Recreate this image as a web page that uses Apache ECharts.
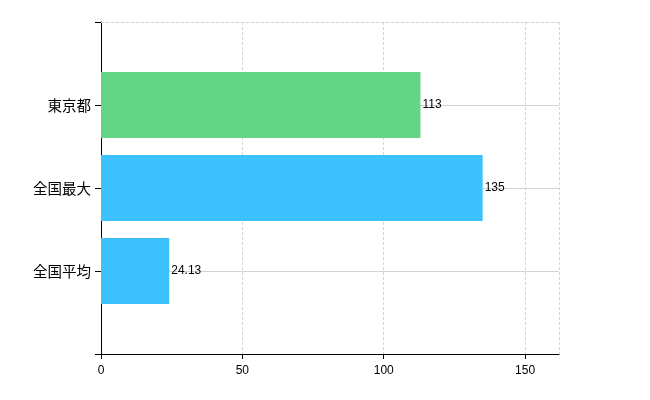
<!DOCTYPE html>
<html><head><meta charset="utf-8">
<script src="https://cdn.jsdelivr.net/npm/echarts@6/dist/echarts.min.js"></script>
<style>html,body{margin:0;padding:0;background:#fff}#c{width:650px;height:400px}</style>
</head><body><div id="c"></div>
<script>
const categories = ['', '全国平均', '全国最大', '東京都', ''];
const values = ['-', 24.13, 135, 113, '-'];
const barColors = ['#3dc1fd', '#3dc1fd', '#3dc1fd', '#64d487', '#3dc1fd'];
const xMax = 162;
const xInterval = 50;

const chart = echarts.init(document.getElementById('c'), null, {renderer: 'canvas'});
chart.setOption({
  animation: false,
  grid: {left: 101, right: 91, top: 22, bottom: 46, containLabel: false},
  xAxis: [{
    type: 'value', min: 0, max: xMax, interval: xInterval,
    axisLine: {show: true, lineStyle: {color: '#000', width: 1}},
    axisTick: {show: true, length: 5, lineStyle: {color: '#000'}},
    axisLabel: {color: '#000', fontSize: 12, fontFamily: 'Liberation Sans, Arial, sans-serif', margin: 11, showMaxLabel: false},
    splitLine: {show: true, lineStyle: {color: '#d4d4d4', type: [3, 2], width: 1}}
  }, {
    type: 'value', position: 'top', min: 0, max: xMax, interval: xInterval,
    axisLine: {show: true, lineStyle: {color: '#d4d4d4', type: [3, 2], width: 1}},
    axisTick: {show: false}, axisLabel: {show: false}, splitLine: {show: false}
  }],
  yAxis: {
    type: 'category', data: categories, boundaryGap: false,
    axisLine: {show: true, lineStyle: {color: '#000', width: 1}},
    axisTick: {show: true, length: 6, lineStyle: {color: '#000'}},
    axisLabel: {color: '#000', fontSize: 14.5, fontFamily: 'Noto Sans CJK JP, sans-serif', margin: 10},
    splitLine: {show: true, interval: function (i) { return i > 0 && i < 4; }, lineStyle: {color: '#d3d3d3', width: 1}}
  },
  series: [{
    type: 'bar', xAxisIndex: 0, data: values, barWidth: 66,
    itemStyle: {color: function (p) { return barColors[p.dataIndex]; }},
    label: {show: true, position: 'right', distance: 2, color: '#000', fontSize: 12,
      fontFamily: 'Liberation Sans, Arial, sans-serif'}
  }]
});
</script></body></html>
